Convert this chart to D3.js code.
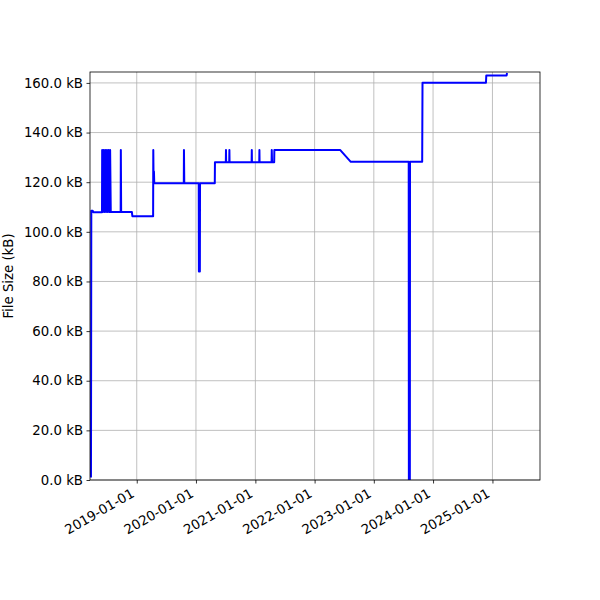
<!DOCTYPE html>
<html>
<head>
<meta charset="utf-8">
<script src="https://cdn.jsdelivr.net/npm/d3@7"></script>
<style>
  body { margin: 0; background: #fff; }
  svg { font-family: "DejaVu Sans", sans-serif; }
</style>
</head>
<body>
<div id="chart"></div>
<script>
// File size history (kB)
const dates = [
  '2018-03-25', '2018-03-27', '2018-04-05', '2018-04-08', '2018-06-01',
  '2018-06-02', '2018-06-06', '2018-06-11', '2018-06-16', '2018-06-21', '2018-06-26',
  '2018-07-01', '2018-07-06', '2018-07-11', '2018-07-16', '2018-07-21', '2018-07-25',
  '2018-09-24', '2018-09-25', '2018-09-27',
  '2018-12-02', '2018-12-05',
  '2019-04-12', '2019-04-13', '2019-04-15', '2019-04-17', '2019-04-19',
  '2019-10-18', '2019-10-19', '2019-10-21',
  '2020-01-18', '2020-01-19', '2020-01-25', '2020-01-26',
  '2020-04-26', '2020-04-27',
  '2020-07-03', '2020-07-04', '2020-07-05',
  '2020-07-24', '2020-07-25', '2020-07-26',
  '2020-12-09', '2020-12-10', '2020-12-11',
  '2021-01-25', '2021-01-26', '2021-01-27',
  '2021-04-11', '2021-04-12', '2021-04-14', '2021-04-27', '2021-04-28',
  '2022-06-07', '2022-08-12',
  '2023-08-04', '2023-08-05', '2023-08-11', '2023-08-12',
  '2023-10-26', '2023-10-28',
  '2024-11-22', '2024-11-24',
  '2025-03-29', '2025-04-01'
];
const sizes = [
  1, 108.5, 108.5, 107.9, 107.9,
  133, 108, 133, 108, 133, 108,
  133, 108, 133, 108, 133, 108,
  108, 133, 108,
  108, 106.3,
  106.3, 133, 119.6, 124.3, 119.6,
  119.6, 133, 119.6,
  119.6, 84, 84, 119.6,
  119.6, 128,
  128, 133, 128,
  128, 133, 128,
  128, 133, 128,
  128, 133, 128,
  128, 133, 128, 128, 133,
  133, 128.2,
  128.2, 0, 0, 128.2,
  128.2, 160.1,
  160.1, 163,
  163, 164
];
const yTicks = [0, 20, 40, 60, 80, 100, 120, 140, 160];
const xTicks = ['2019-01-01', '2020-01-01', '2021-01-01', '2022-01-01',
                '2023-01-01', '2024-01-01', '2025-01-01'];

const parse = d3.utcParse('%Y-%m-%d');
const data = dates.map((d, i) => ({ date: parse(d), kb: sizes[i] }));

const W = 600, H = 600;
const m = { left: 90, right: 540, top: 72, bottom: 480 };
const FONT = '"DejaVu Sans", sans-serif';

const svg = d3.select('#chart').append('svg')
  .attr('width', W).attr('height', H);

const x = d3.scaleUtc()
  .domain([parse('2018-03-19'), parse('2025-10-21')])
  .range([m.left, m.right]);
const y = d3.scaleLinear().domain([0, 164.4]).range([m.bottom, m.top]);

// grid
svg.append('g').selectAll('line')
  .data(xTicks.map(parse)).enter().append('line')
  .attr('x1', d => x(d)).attr('x2', d => x(d))
  .attr('y1', m.top).attr('y2', m.bottom)
  .attr('stroke', '#b0b0b0').attr('stroke-width', 0.8);
svg.append('g').selectAll('line')
  .data(yTicks).enter().append('line')
  .attr('x1', m.left).attr('x2', m.right)
  .attr('y1', d => y(d)).attr('y2', d => y(d))
  .attr('stroke', '#b0b0b0').attr('stroke-width', 0.8);

// line
svg.append('clipPath').attr('id', 'clip')
  .append('rect').attr('x', m.left).attr('y', m.top)
  .attr('width', m.right - m.left).attr('height', m.bottom - m.top);

const line = d3.line().x(d => x(d.date)).y(d => y(d.kb));
svg.append('path')
  .datum(data)
  .attr('clip-path', 'url(#clip)')
  .attr('d', line)
  .attr('fill', 'none')
  .attr('stroke', '#0000ff')
  .attr('stroke-width', 2)
  .attr('stroke-linejoin', 'round');

// x axis
const xAxis = svg.append('g')
  .attr('transform', `translate(0,${m.bottom})`)
  .call(d3.axisBottom(x).tickValues(xTicks.map(parse)).tickSize(3.5).tickSizeOuter(0)
    .tickFormat(d3.utcFormat('%Y-%m-%d')))
  .attr('font-family', FONT);
xAxis.select('.domain').remove();
xAxis.selectAll('.tick line').attr('stroke', '#000').attr('stroke-width', 0.8);
xAxis.selectAll('.tick text')
  .attr('font-size', '13.3px')
  .attr('fill', '#000')
  .attr('y', 0).attr('dy', 0)
  .attr('text-anchor', 'end')
  .attr('transform', 'translate(-2,16) rotate(-30)');

// y axis
const yAxis = svg.append('g')
  .attr('transform', `translate(${m.left},0)`)
  .call(d3.axisLeft(y).tickValues(yTicks).tickSize(3.5).tickSizeOuter(0)
    .tickFormat(d => d3.format('.1f')(d) + ' kB'))
  .attr('font-family', FONT);
yAxis.select('.domain').remove();
yAxis.selectAll('.tick line').attr('stroke', '#000').attr('stroke-width', 0.8);
yAxis.selectAll('.tick text')
  .attr('font-size', '13.3px')
  .attr('fill', '#000')
  .attr('x', -7);

// frame
svg.append('rect')
  .attr('x', m.left).attr('y', m.top)
  .attr('width', m.right - m.left).attr('height', m.bottom - m.top)
  .attr('fill', 'none').attr('stroke', '#000').attr('stroke-width', 0.8);

// y label
svg.append('text')
  .attr('transform', `translate(13,${(m.top + m.bottom) / 2}) rotate(-90)`)
  .attr('text-anchor', 'middle')
  .attr('font-family', FONT)
  .attr('font-size', '13.3px')
  .text('File Size (kB)');
</script>
</body>
</html>
